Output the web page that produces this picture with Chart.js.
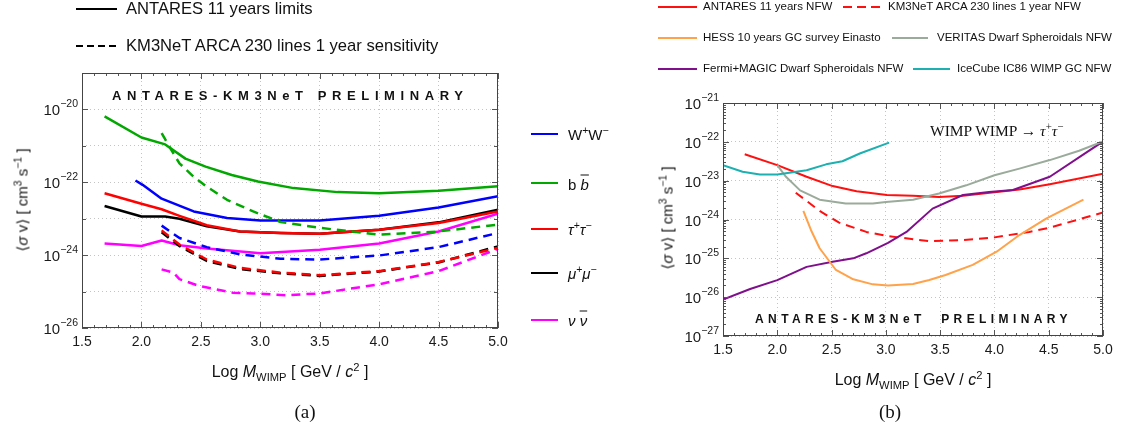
<!DOCTYPE html>
<html>
<head>
<meta charset="utf-8">
<script src="https://cdn.jsdelivr.net/npm/chart.js@4.4.1/dist/chart.umd.min.js"></script>
<style>
  html, body { margin: 0; padding: 0; background: #fff; }
  #wrap { position: relative; width: 1121px; height: 435px; overflow: hidden; font-family: "Liberation Sans", Arial, sans-serif; color: #111; }
  canvas { position: absolute; }
  .t { position: absolute; white-space: nowrap; line-height: 1; }
  .ln { position: absolute; height: 2px; }
  .mid { transform: translateY(-50%); }
  sup, sub { font-size: 70%; line-height: 0; }
  .ov { text-decoration: overline; }
</style>
</head>
<body>
<div id="wrap">
  <canvas id="c1" width="560" height="370" style="left:0;top:0;"></canvas>
  <canvas id="c2" width="521" height="370" style="left:600px;top:0;"></canvas>

  <!-- left panel legend (top) -->
  <div class="ln" style="left:76px;top:8px;width:41px;background:#000;"></div>
  <div class="t mid" style="left:126px;top:9px;font-size:16.6px;">ANTARES 11 years limits</div>
  <div class="ln" style="left:76px;top:45px;width:41px;background:repeating-linear-gradient(to right,#000 0 7px,transparent 7px 11px);"></div>
  <div class="t mid" style="left:126px;top:46px;font-size:16.6px;">KM3NeT ARCA 230 lines 1 year sensitivity</div>

  <!-- left panel channel labels -->
  <div class="ln" style="left:531px;top:133px;width:27px;background:#0000ff;"></div>
  <div class="t mid" style="left:568px;top:134px;font-size:15px;">W<sup>+</sup>W<sup>−</sup></div>
  <div class="ln" style="left:531px;top:182px;width:27px;background:#00a800;"></div>
  <div class="t mid" style="left:568px;top:184px;font-size:15px;">b <i class="ov">b</i></div>
  <div class="ln" style="left:531px;top:228px;width:27px;background:#ff0000;"></div>
  <div class="t mid" style="left:568px;top:229px;font-size:15px;"><i>τ</i><sup>+</sup><i>τ</i><sup>−</sup></div>
  <div class="ln" style="left:531px;top:272px;width:27px;background:#000;"></div>
  <div class="t mid" style="left:568px;top:273px;font-size:15px;"><i>μ</i><sup>+</sup><i>μ</i><sup>−</sup></div>
  <div class="ln" style="left:531px;top:319px;width:27px;background:#ff00ff;"></div>
  <div class="t mid" style="left:568px;top:320px;font-size:15px;"><i>ν</i> <i class="ov">ν</i></div>

  <!-- left annotations and titles -->
  <div class="t mid" style="left:112px;top:95px;font-size:13px;font-weight:bold;letter-spacing:5.6px;">ANTARES-KM3NeT PRELIMINARY</div>
  <div class="t" style="left:22px;top:200px;font-size:15px;transform:translate(-50%,-50%) rotate(-90deg);">⟨<i>σ</i> v⟩ [ cm<sup>3</sup> s<sup>−1</sup> ]</div>
  <div class="t" style="left:290px;top:372px;font-size:16px;transform:translate(-50%,-50%);">Log <i>M</i><sub>WIMP</sub> [ GeV / <i>c</i><sup>2</sup> ]</div>
  <div class="t" style="left:305px;top:411px;font-size:19px;font-family:'Liberation Serif',serif;transform:translate(-50%,-50%);">(a)</div>

  <!-- right panel legend -->
  <div class="ln" style="left:658px;top:6px;width:39px;background:#ff1010;"></div>
  <div class="t mid" style="left:703px;top:7px;font-size:11.5px;">ANTARES 11 years NFW</div>
  <div class="ln" style="left:843px;top:6px;width:37px;background:repeating-linear-gradient(to right,#ff1010 0 9px,transparent 9px 14px);"></div>
  <div class="t mid" style="left:888px;top:7px;font-size:11.5px;">KM3NeT ARCA 230 lines 1 year NFW</div>
  <div class="ln" style="left:658px;top:37px;width:39px;background:#ffa24a;"></div>
  <div class="t mid" style="left:703px;top:38px;font-size:11.5px;">HESS 10 years GC survey Einasto</div>
  <div class="ln" style="left:892px;top:37px;width:36px;background:#9bab9b;"></div>
  <div class="t mid" style="left:937px;top:38px;font-size:11.5px;">VERITAS Dwarf Spheroidals NFW</div>
  <div class="ln" style="left:658px;top:68px;width:39px;background:#800f8c;"></div>
  <div class="t mid" style="left:703px;top:69px;font-size:11.5px;">Fermi+MAGIC Dwarf Spheroidals NFW</div>
  <div class="ln" style="left:913px;top:68px;width:37px;background:#1cb0b0;"></div>
  <div class="t mid" style="left:957px;top:69px;font-size:11.5px;">IceCube IC86 WIMP GC NFW</div>

  <!-- right annotations and titles -->
  <div class="t mid" style="left:930px;top:131px;font-size:15.5px;font-family:'Liberation Serif',serif;">WIMP WIMP → <i>τ</i><sup>+</sup><i>τ</i><sup>−</sup></div>
  <div class="t mid" style="left:755px;top:319px;font-size:12px;font-weight:bold;letter-spacing:4.4px;">ANTARES-KM3NeT&nbsp; PRELIMINARY</div>
  <div class="t" style="left:667px;top:218px;font-size:15px;transform:translate(-50%,-50%) rotate(-90deg);">⟨<i>σ</i> v⟩ [ cm<sup>3</sup> s<sup>−1</sup> ]</div>
  <div class="t" style="left:913px;top:380px;font-size:16px;transform:translate(-50%,-50%);">Log <i>M</i><sub>WIMP</sub> [ GeV / <i>c</i><sup>2</sup> ]</div>
  <div class="t" style="left:890px;top:411px;font-size:19px;font-family:'Liberation Serif',serif;transform:translate(-50%,-50%);">(b)</div>
</div>

<script>
// ===== DATA (x = log10 M_WIMP [GeV], y = log10 <sigma v> [cm^3 s^-1]) =====
// Panel (a): ANTARES 11 years limits (solid)
const antWW_x = [1.95, 2.01, 2.17, 2.44, 2.72, 3.0, 3.5, 4.0, 4.5, 5.0];
const antWW_y = [-21.95, -22.07, -22.45, -22.8, -22.98, -23.05, -23.05, -22.92, -22.69, -22.38];
const antBB_x = [1.69, 2.0, 2.2, 2.37, 2.54, 2.76, 2.98, 3.28, 3.65, 4.0, 4.5, 5.0];
const antBB_y = [-20.19, -20.77, -20.96, -21.35, -21.57, -21.8, -21.98, -22.16, -22.27, -22.3, -22.23, -22.11];
const antTT_x = [1.69, 2.0, 2.17, 2.32, 2.55, 2.83, 3.17, 3.5, 4.0, 4.5, 5.0];
const antTT_y = [-22.3, -22.59, -22.74, -22.92, -23.18, -23.35, -23.39, -23.41, -23.3, -23.12, -22.8];
const antMM_x = [1.69, 2.0, 2.2, 2.32, 2.55, 2.83, 3.17, 3.5, 4.0, 4.5, 5.0];
const antMM_y = [-22.65, -22.94, -22.94, -23.0, -23.21, -23.35, -23.39, -23.41, -23.3, -23.1, -22.75];
const antNN_x = [1.69, 2.0, 2.17, 2.32, 2.55, 3.0, 3.5, 4.0, 4.5, 5.0];
const antNN_y = [-23.68, -23.75, -23.6, -23.73, -23.82, -23.95, -23.85, -23.68, -23.35, -22.86];
// Panel (a): KM3NeT ARCA 230 lines 1 year sensitivity (dashed)
const kmBB_x = [2.17, 2.24, 2.32, 2.44, 2.55, 2.72, 2.94, 3.17, 3.5, 4.0, 4.5, 5.0];
const kmBB_y = [-20.65, -21.05, -21.48, -21.85, -22.12, -22.48, -22.8, -23.09, -23.25, -23.44, -23.35, -23.16];
const kmWW_x = [2.17, 2.32, 2.55, 2.83, 3.17, 3.5, 4.0, 4.5, 5.0];
const kmWW_y = [-23.19, -23.53, -23.78, -23.98, -24.1, -24.12, -24.01, -23.78, -23.39];
const kmTT_x = [2.17, 2.32, 2.55, 2.83, 3.17, 3.5, 4.0, 4.5, 5.0];
const kmTT_y = [-23.32, -23.71, -24.12, -24.35, -24.48, -24.55, -24.44, -24.19, -23.8];
const kmMM_x = [2.17, 2.32, 2.55, 2.83, 3.17, 3.5, 4.0, 4.5, 5.0];
const kmMM_y = [-23.37, -23.75, -24.16, -24.38, -24.5, -24.57, -24.45, -24.2, -23.76];
const kmNN_x = [2.17, 2.27, 2.32, 2.49, 2.77, 2.94, 3.22, 3.5, 4.0, 4.5, 5.0];
const kmNN_y = [-24.39, -24.48, -24.66, -24.85, -25.03, -25.05, -25.1, -25.05, -24.8, -24.44, -23.83];

// Panel (b): tau+tau- channel comparison
const bAnt_x = [1.70, 2.0, 2.27, 2.51, 2.73, 3.01, 3.25, 3.49, 3.71, 4.0, 4.23, 4.51, 5.0];
const bAnt_y = [-22.32, -22.6, -22.9, -23.14, -23.27, -23.37, -23.39, -23.42, -23.39, -23.3, -23.23, -23.09, -22.82];
const bKm_x = [2.17, 2.27, 2.39, 2.57, 2.82, 3.0, 3.4, 3.71, 4.0, 4.32, 4.51, 5.0];
const bKm_y = [-23.31, -23.52, -23.78, -24.08, -24.32, -24.42, -24.56, -24.53, -24.46, -24.32, -24.21, -23.82];
const bHess_x = [2.24, 2.31, 2.39, 2.54, 2.7, 2.88, 3.02, 3.25, 3.4, 3.55, 3.8, 4.02, 4.23, 4.48, 4.82];
const bHess_y = [-23.78, -24.27, -24.74, -25.3, -25.54, -25.67, -25.7, -25.66, -25.56, -25.43, -25.17, -24.83, -24.4, -23.97, -23.49];
const bVer_x = [2.0, 2.08, 2.21, 2.39, 2.63, 2.88, 3.0, 3.25, 3.49, 3.74, 4.0, 4.23, 4.51, 4.78, 5.0];
const bVer_y = [-22.6, -22.9, -23.25, -23.49, -23.59, -23.59, -23.55, -23.49, -23.33, -23.12, -22.86, -22.69, -22.47, -22.23, -21.99];
const bFermi_x = [1.5, 1.75, 2.0, 2.27, 2.51, 2.7, 2.82, 3.02, 3.19, 3.43, 3.71, 3.95, 4.17, 4.51, 5.0];
const bFermi_y = [-26.06, -25.79, -25.56, -25.22, -25.09, -25.0, -24.87, -24.6, -24.32, -23.72, -23.37, -23.29, -23.24, -22.9, -21.99];
const bIce_x = [1.5, 1.68, 1.84, 2.0, 2.27, 2.45, 2.6, 2.76, 3.03];
const bIce_y = [-22.6, -22.77, -22.84, -22.84, -22.73, -22.58, -22.5, -22.3, -22.02];

// Axis ticks
const xTickLabels = ['1.5', '2.0', '2.5', '3.0', '3.5', '4.0', '4.5', '5.0'];
const aYTickExps = [-26, -24, -22, -20];
const bYTickExps = [-27, -26, -25, -24, -23, -22, -21];
const aYRange = [-26, -19];
const bYRange = [-27, -21];

// ===== helpers =====
const pts = (xs, ys) => xs.map((x, i) => ({ x: x, y: ys[i] }));
const FONT = "'Liberation Sans', Arial, sans-serif";

function ds(label, xs, ys, color, dashed, width) {
  return {
    label: label, data: pts(xs, ys), borderColor: color, backgroundColor: color,
    borderWidth: width, borderDash: dashed ? [9, 6] : [], pointRadius: 0,
    tension: 0, fill: false, borderCapStyle: 'butt', borderJoinStyle: 'round'
  };
}

const framePlugin = {
  id: 'frameTicks',
  afterDatasetsDraw(chart, args, o) {
    const { ctx, chartArea: a, scales: { x, y } } = chart;
    ctx.save();
    ctx.strokeStyle = '#555';
    ctx.lineWidth = 1;
    const L = (x1, y1, x2, y2) => { ctx.beginPath(); ctx.moveTo(x1, y1); ctx.lineTo(x2, y2); ctx.stroke(); };
    for (let i = 0; i <= 35; i++) {
      const px = Math.round(x.getPixelForValue(1.5 + i * 0.1)) + 0.5;
      const len = (i % 5 === 0) ? 6 : 3;
      L(px, a.bottom, px, a.bottom - len);
      L(px, a.top, px, a.top + len);
    }
    for (let v = y.min; v <= y.max; v++) {
      const py = Math.round(y.getPixelForValue(v)) + 0.5;
      const len = (o.evenMajor && (v % 2 !== 0)) ? 4 : 6;
      L(a.left, py, a.left + len, py);
      L(a.right, py, a.right - len, py);
      if (o.logMinor && v < y.max) {
        for (let k = 2; k <= 9; k++) {
          const pm = Math.round(y.getPixelForValue(v + Math.log10(k))) + 0.5;
          L(a.left, pm, a.left + 3, pm);
          L(a.right, pm, a.right - 3, pm);
        }
      }
    }
    ctx.strokeStyle = '#444';
    ctx.strokeRect(a.left + 0.5, a.top + 0.5, a.right - a.left - 1, a.bottom - a.top - 1);
    // y tick labels: 10 with raised exponent
    ctx.fillStyle = '#1a1a1a';
    ctx.textAlign = 'left';
    o.exps.forEach(e => {
      const py = y.getPixelForValue(e);
      const expTxt = '−' + String(Math.abs(e));
      ctx.font = '10.5px ' + FONT;
      const we = ctx.measureText(expTxt).width;
      ctx.font = '15px ' + FONT;
      const wb = ctx.measureText('10').width;
      const right = a.left - 4;
      ctx.textBaseline = 'alphabetic';
      ctx.fillText('10', right - we - wb, py + 6);
      ctx.font = '10.5px ' + FONT;
      ctx.fillText(expTxt, right - we, py - 2);
    });
    ctx.restore();
  }
};

function makeOptions(yRange, area, canvasH, frameOpts) {
  return {
    responsive: false, animation: false, devicePixelRatio: 1,
    layout: { padding: { left: 0, top: area.top, right: area.right, bottom: 0 } },
    plugins: { legend: { display: false }, tooltip: { enabled: false }, frameTicks: frameOpts },
    scales: {
      x: {
        type: 'linear', min: 1.5, max: 5.0,
        afterFit: s => { s.height = canvasH - area.bottom; },
        grid: { color: '#c4c4c4', drawTicks: false, lineWidth: 1 },
        border: { display: false, dash: [1, 3] },
        ticks: {
          stepSize: 0.5, padding: 6, color: '#1a1a1a', font: { family: FONT, size: 14 },
          autoSkip: false, maxRotation: 0,
          callback: v => { const i = Math.round((v - 1.5) / 0.5); return (Math.abs(v - 1.5 - i * 0.5) < 1e-6) ? xTickLabels[i] : ''; }
        }
      },
      y: {
        type: 'linear', min: yRange[0], max: yRange[1],
        afterFit: s => { s.width = area.left; },
        grid: { color: '#c4c4c4', drawTicks: false, lineWidth: 1 },
        border: { display: false, dash: [1, 3] },
        ticks: { stepSize: 1, padding: 4, autoSkip: false, callback: () => '' }
      }
    }
  };
}

// ===== Panel (a) =====
new Chart(document.getElementById('c1'), {
  type: 'line',
  data: {
    datasets: [
      ds('KM3NeT b b̄', kmBB_x, kmBB_y, '#00a800', true, 2.5),
      ds('KM3NeT W+W−', kmWW_x, kmWW_y, '#0000ff', true, 2.5),
      ds('KM3NeT τ+τ−', kmTT_x, kmTT_y, '#ff0000', true, 2.5),
      ds('KM3NeT μ+μ−', kmMM_x, kmMM_y, '#000000', true, 2.5),
      ds('KM3NeT ν ν̄', kmNN_x, kmNN_y, '#ff00ff', true, 2.5),
      ds('ANTARES ν ν̄', antNN_x, antNN_y, '#ff00ff', false, 2.5),
      ds('ANTARES b b̄', antBB_x, antBB_y, '#00a800', false, 2.5),
      ds('ANTARES W+W−', antWW_x, antWW_y, '#0000ff', false, 2.5),
      ds('ANTARES τ+τ−', antTT_x, antTT_y, '#ff0000', false, 2.5),
      ds('ANTARES μ+μ−', antMM_x, antMM_y, '#000000', false, 2.5)
    ]
  },
  options: makeOptions(aYRange, { left: 82, top: 73, right: 62, bottom: 328 }, 370,
    { evenMajor: true, logMinor: false, exps: aYTickExps }),
  plugins: [framePlugin]
});

// ===== Panel (b) =====
new Chart(document.getElementById('c2'), {
  type: 'line',
  data: {
    datasets: [
      ds('IceCube IC86 WIMP GC NFW', bIce_x, bIce_y, '#1cb0b0', false, 2),
      ds('HESS 10 years GC survey Einasto', bHess_x, bHess_y, '#ffa24a', false, 2),
      ds('VERITAS Dwarf Spheroidals NFW', bVer_x, bVer_y, '#9bab9b', false, 2),
      ds('Fermi+MAGIC Dwarf Spheroidals NFW', bFermi_x, bFermi_y, '#800f8c', false, 2),
      ds('KM3NeT ARCA 230 lines 1 year NFW', bKm_x, bKm_y, '#ff1010', true, 2),
      ds('ANTARES 11 years NFW', bAnt_x, bAnt_y, '#ff1010', false, 2)
    ]
  },
  options: makeOptions(bYRange, { left: 123, top: 103, right: 18, bottom: 336 }, 370,
    { evenMajor: false, logMinor: true, exps: bYTickExps }),
  plugins: [framePlugin]
});
</script>
</body>
</html>
